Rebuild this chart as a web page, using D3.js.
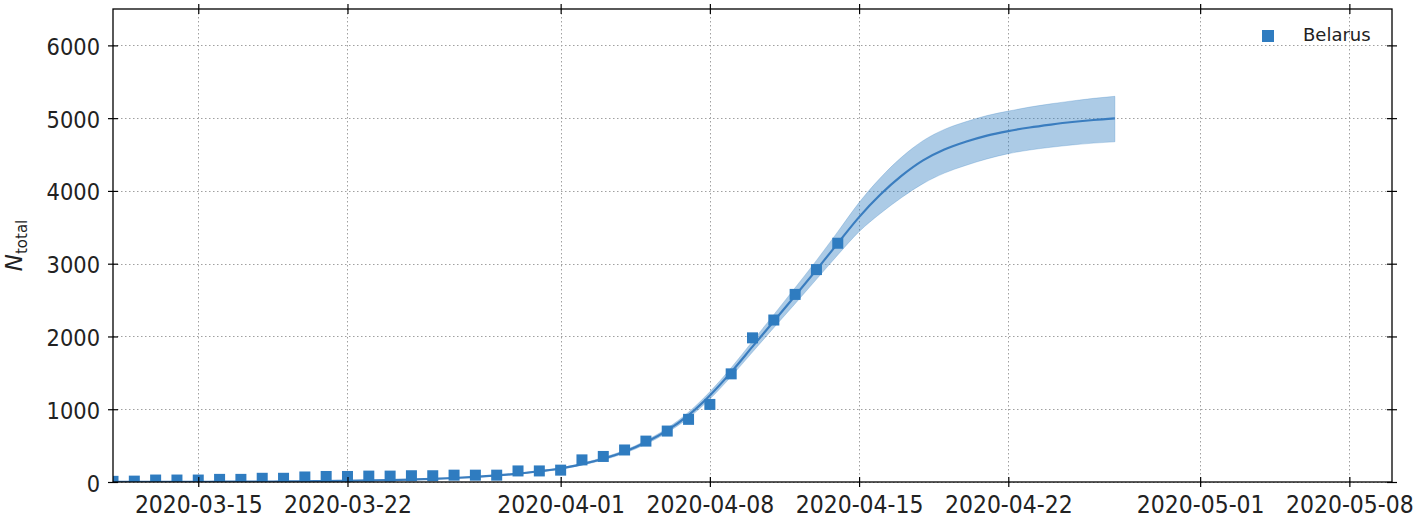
<!DOCTYPE html>
<html>
<head>
<meta charset="utf-8">
<script src="https://cdn.jsdelivr.net/npm/d3@7"></script>
<style>
  html, body { margin: 0; padding: 0; background: #fff; }
  svg { display: block; font-family: "DejaVu Sans", sans-serif; }
</style>
</head>
<body>
<svg id="chart" width="1419" height="519"></svg>
<script>
// ---- Data ----
const obsDates = ["2020-03-11","2020-03-12","2020-03-13","2020-03-14","2020-03-15","2020-03-16","2020-03-17",
  "2020-03-18","2020-03-19","2020-03-20","2020-03-21","2020-03-22","2020-03-23","2020-03-24","2020-03-25",
  "2020-03-26","2020-03-27","2020-03-28","2020-03-29","2020-03-30","2020-03-31","2020-04-01","2020-04-02",
  "2020-04-03","2020-04-04","2020-04-05","2020-04-06","2020-04-07","2020-04-08","2020-04-09","2020-04-10",
  "2020-04-11","2020-04-12","2020-04-13","2020-04-14"];
const obsValues = [9, 12, 27, 27, 27, 36, 36, 51, 51, 69, 76, 76, 81, 81, 86, 86, 94, 94, 94, 152, 152, 163, 304,
  351, 440, 562, 700, 861, 1066, 1486, 1981, 2226, 2578, 2919, 3281];

const fitDates = ["2020-03-11","2020-03-12","2020-03-13","2020-03-14","2020-03-15","2020-03-16","2020-03-17",
  "2020-03-18","2020-03-19","2020-03-20","2020-03-21","2020-03-22","2020-03-23","2020-03-24","2020-03-25",
  "2020-03-26","2020-03-27","2020-03-28","2020-03-29","2020-03-30","2020-03-31","2020-04-01","2020-04-02",
  "2020-04-03","2020-04-04","2020-04-05","2020-04-06","2020-04-07","2020-04-08","2020-04-09","2020-04-10",
  "2020-04-11","2020-04-12","2020-04-13","2020-04-14","2020-04-15","2020-04-16","2020-04-17","2020-04-18",
  "2020-04-19","2020-04-20","2020-04-21","2020-04-22","2020-04-23","2020-04-24","2020-04-25","2020-04-26",
  "2020-04-27"];
const fitCenter = [1, 1, 2, 2, 3, 4, 5, 6, 8, 10, 13, 17, 21, 27, 34, 43, 55, 70, 90, 115, 148, 185, 245,
  320, 415, 545, 710, 920, 1190, 1510, 1860, 2210, 2560, 2915, 3280, 3640, 3950, 4210, 4420,
  4570, 4675, 4760, 4822, 4872, 4912, 4947, 4975, 4997];
const fitLower = [1, 1, 2, 2, 3, 4, 5, 6, 7, 9, 12, 16, 20, 25, 32, 40, 51, 65, 84, 107, 138, 175, 232,
  303, 395, 520, 680, 880, 1140, 1450, 1785, 2120, 2450, 2785, 3120, 3440, 3690, 3910, 4100,
  4245, 4350, 4440, 4512, 4562, 4600, 4632, 4657, 4675];
const fitUpper = [1, 1, 2, 2, 3, 4, 5, 6, 9, 11, 14, 18, 22, 29, 36, 46, 59, 75, 96, 123, 158, 195, 258,
  337, 435, 570, 740, 960, 1240, 1570, 1935, 2300, 2670, 3045, 3440, 3840, 4180, 4465, 4690,
  4845, 4950, 5035, 5097, 5152, 5197, 5237, 5272, 5300];

const xTickDates = ["2020-03-15","2020-03-22","2020-04-01","2020-04-08","2020-04-15","2020-04-22","2020-05-01","2020-05-08"];
const yTicks = [0, 1000, 2000, 3000, 4000, 5000, 6000];
const xDomain = ["2020-03-11", "2020-05-10"];
const yDomain = [0, 6500];
const seriesName = "Belarus";

// ---- Layout ----
const L = 113, R = 1392, T = 9, B = 482;
const parse = d3.utcParse("%Y-%m-%d");
const fmt = d3.utcFormat("%Y-%m-%d");

const svg = d3.select("#chart");
const x = d3.scaleUtc().domain(xDomain.map(parse)).range([L, R]);
const y = d3.scaleLinear().domain(yDomain).range([B, T]);

const blue = "#2f7cc0";

// clip
svg.append("defs").append("clipPath").attr("id", "clip")
  .append("rect").attr("x", L).attr("y", T).attr("width", R - L).attr("height", B - T);

// grid
const grid = svg.append("g").attr("stroke", "#a0a0a0").attr("stroke-width", 1).attr("stroke-dasharray", "1.5,2.5");
xTickDates.forEach(d => {
  const px = Math.round(x(parse(d))) + 0.5;
  grid.append("line").attr("x1", px).attr("x2", px).attr("y1", T).attr("y2", B);
});
yTicks.forEach(v => {
  const py = Math.round(y(v)) + 0.5;
  grid.append("line").attr("x1", L).attr("x2", R).attr("y1", py).attr("y2", py);
});

// fit band and line
const fit = fitDates.map((d, i) => ({ d: parse(d), c: fitCenter[i], lo: fitLower[i], hi: fitUpper[i] }));
const plot = svg.append("g").attr("clip-path", "url(#clip)");

plot.append("path").datum(fit)
  .attr("d", d3.area().x(p => x(p.d)).y0(p => y(p.lo)).y1(p => y(p.hi)).curve(d3.curveMonotoneX))
  .attr("fill", "#2f7cc0").attr("fill-opacity", 0.4)
  .attr("stroke", "#2f7cc0").attr("stroke-opacity", 0.25).attr("stroke-width", 1);

plot.append("path").datum(fit)
  .attr("d", d3.line().x(p => x(p.d)).y(p => y(p.c)).curve(d3.curveMonotoneX))
  .attr("fill", "none").attr("stroke", "#3a7dbf").attr("stroke-width", 2.2);

// observed squares
const S = 11;
plot.selectAll("rect.obs").data(obsDates.map((d, i) => ({ d: parse(d), v: obsValues[i] })))
  .enter().append("rect").attr("class", "obs")
  .attr("x", p => x(p.d) - S / 2).attr("y", p => y(p.v) - S / 2)
  .attr("width", S).attr("height", S).attr("fill", blue);

// axes
const tickSize = 5;
const xb = svg.append("g").attr("transform", `translate(0,${B})`)
  .call(d3.axisBottom(x).tickValues(xTickDates.map(parse)).tickFormat(fmt).tickSizeInner(tickSize).tickSizeOuter(0));
const xt = svg.append("g").attr("transform", `translate(0,${T})`)
  .call(d3.axisTop(x).tickValues(xTickDates.map(parse)).tickFormat("").tickSizeInner(tickSize).tickSizeOuter(0));
const yl = svg.append("g").attr("transform", `translate(${L},0)`)
  .call(d3.axisLeft(y).tickValues(yTicks).tickFormat(d3.format("d")).tickSizeInner(tickSize).tickSizeOuter(0));
const yr = svg.append("g").attr("transform", `translate(${R},0)`)
  .call(d3.axisRight(y).tickValues(yTicks).tickFormat("").tickSizeInner(tickSize).tickSizeOuter(0));

[xb, xt, yl, yr].forEach(g => {
  g.select(".domain").remove();
  g.selectAll(".tick line").attr("stroke", "#000").attr("stroke-width", 1.2);
  g.selectAll("text").attr("fill", "#222").style("font-family", "DejaVu Sans");
});
// make ticks in-out
xb.selectAll(".tick line").attr("y1", -tickSize).attr("y2", tickSize);
xt.selectAll(".tick line").attr("y1", -tickSize).attr("y2", tickSize);
yl.selectAll(".tick line").attr("x1", -tickSize).attr("x2", tickSize);
yr.selectAll(".tick line").attr("x1", -tickSize).attr("x2", tickSize);
// tick labels (slightly tall glyphs as in the reference)
xb.selectAll("text").attr("y", 0).attr("dy", null).style("font-size", "22px")
  .attr("transform", "translate(0,31) scale(1,1.12)");
yl.selectAll("text").attr("x", 0).attr("dy", null).style("font-size", "21px")
  .attr("transform", "translate(-13,9) scale(1,1.08)");

// frame
svg.append("rect").attr("x", L).attr("y", T).attr("width", R - L).attr("height", B - T)
  .attr("fill", "none").attr("stroke", "#000").attr("stroke-width", 1.3);

// y label
const ylab = svg.append("text").attr("transform", "rotate(-90)")
  .attr("x", -(T + B) / 2).attr("y", 22).attr("text-anchor", "middle")
  .attr("fill", "#222").style("font-family", "DejaVu Sans");
ylab.append("tspan").text("N").style("font-style", "italic").style("font-size", "23px");
ylab.append("tspan").text("total").style("font-size", "15px").attr("dy", 5);

// legend
const lg = svg.append("g");
lg.append("rect").attr("x", 1268 - 6).attr("y", 36 - 6).attr("width", 12).attr("height", 12).attr("fill", blue);
lg.append("text").attr("x", 1303).attr("y", 41).text(seriesName)
  .attr("fill", "#222").style("font-family", "DejaVu Sans").style("font-size", "18px");
</script>
</body>
</html>
